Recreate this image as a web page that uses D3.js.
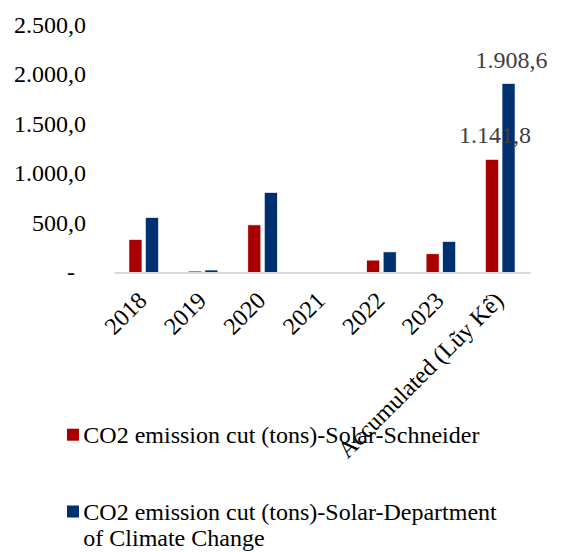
<!DOCTYPE html>
<html>
<head>
<meta charset="utf-8">
<script src="https://cdn.jsdelivr.net/npm/d3@7"></script>
<style>
  html, body { margin: 0; padding: 0; background: #fff; }
  svg { display: block; font-family: "Liberation Serif", "Times New Roman", serif; }
</style>
</head>
<body>
<svg id="chart" width="561" height="552"></svg>
<script>
// Categories and series values (tons of CO2 avoided)
const categories = ["2018", "2019", "2020", "2021", "2022", "2023", "Accumulated (Lũy Kế)"];
const schneider = [333, 14, 481, 0, 125, 188.8, 1141.8];
const climateDept = [555, 25, 808, 0, 208, 312.6, 1908.6];
const seriesNames = [
  "CO2 emission cut (tons)-Solar-Schneider",
  "CO2 emission cut (tons)-Solar-Department of Climate Change"
];
const seriesColors = ["#a80000", "#003070"];
const yTicks = [0, 500, 1000, 1500, 2000, 2500];

const svg = d3.select("#chart");
const plotLeft = 114, plotRight = 530, plotTop = 25, plotBottom = 272.5;
const fontSize = 24;

const x = d3.scaleBand().domain(categories).range([plotLeft, plotRight]).paddingInner(0).paddingOuter(0);
const y = d3.scaleLinear().domain([0, 2500]).range([plotBottom, plotTop]);

const numFmt = d3.formatLocale({decimal: ",", thousands: ".", grouping: [3], currency: ["", ""]}).format(",.1f");
const fmt = v => v === 0 ? "-" : numFmt(v);

// Y axis labels (no axis line, no gridlines)
const yAxis = d3.axisLeft(y).tickValues(yTicks).tickSize(0).tickPadding(0).tickFormat(fmt);
const yg = svg.append("g").attr("transform", "translate(86,0)").call(yAxis);
yg.attr("font-family", null).attr("font-size", null);
yg.select(".domain").remove();
yg.selectAll("text")
  .attr("font-size", fontSize)
  .attr("fill", "#000")
  .attr("dy", "0.3em")
  .attr("dx", d => d === 0 ? -11 : 0);

// Bars
const barW = 13, barGap = 3.5;
const barX = (i, si) => x(categories[i]) + x.bandwidth() / 2 + (si === 0 ? -(barW + barGap / 2) : barGap / 2);
const series = [schneider, climateDept];
series.forEach((vals, si) => {
  svg.append("g").selectAll("rect")
    .data(vals)
    .join("rect")
    .attr("x", (d, i) => barX(i, si))
    .attr("width", barW)
    .attr("y", d => y(d))
    .attr("height", d => plotBottom - y(d))
    .attr("fill", seriesColors[si])
    .attr("stroke", "#fff")
    .attr("stroke-width", 0.6);
});

// Category axis line
const xAxis = d3.axisBottom(x).tickSize(0).tickPadding(0);
const xg = svg.append("g").attr("transform", `translate(0,${plotBottom})`).call(xAxis);
xg.select(".domain").attr("stroke", "#d9d9d9").attr("stroke-width", 2);
xg.selectAll(".tick text").remove();

// Rotated category labels
svg.append("g").selectAll("text")
  .data(categories)
  .join("text")
  .attr("transform", d => `translate(${x(d) + x.bandwidth() / 2 + 4.5},${plotBottom + 29.5}) rotate(-45)`)
  .attr("text-anchor", "end")
  .attr("font-size", fontSize)
  .attr("fill", "#000")
  .text(d => d);

// Value labels on the accumulated bars
const lastIdx = categories.length - 1;
const valueLabels = [
  {v: schneider[lastIdx], si: 0},
  {v: climateDept[lastIdx], si: 1}
];
svg.append("g").selectAll("text")
  .data(valueLabels)
  .join("text")
  .attr("x", d => barX(lastIdx, d.si) + barW / 2 + 3)
  .attr("y", d => y(d.v) - 16)
  .attr("text-anchor", "middle")
  .attr("font-size", fontSize)
  .attr("fill", "#404040")
  .text(d => fmt(d.v));

// Legend
const legend = svg.append("g");
const legendItems = [
  {color: seriesColors[0], lines: [seriesNames[0]], y: 442.7},
  {color: seriesColors[1], lines: ["CO2 emission cut (tons)-Solar-Department", "of Climate Change"], y: 519.5}
];
legendItems.forEach(item => {
  legend.append("rect")
    .attr("x", 67).attr("y", item.y - 14)
    .attr("width", 12).attr("height", 12)
    .attr("fill", item.color);
  const t = legend.append("text")
    .attr("x", 83.3).attr("y", item.y)
    .attr("font-size", fontSize)
    .attr("fill", "#000");
  item.lines.forEach((ln, k) => {
    t.append("tspan").attr("x", 83.3).attr("dy", k === 0 ? 0 : 26.7).text(ln);
  });
});
</script>
</body>
</html>
